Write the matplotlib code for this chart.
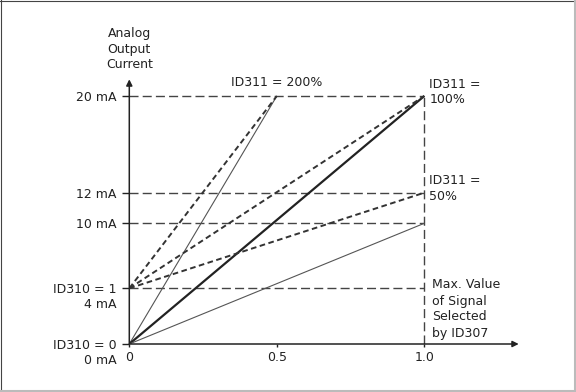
import numpy as np
import matplotlib.pyplot as plt
from matplotlib.lines import Line2D

# analog output scaling (ID311 gain, ID310 min 0 / 4 mA)
gain_labels = ['200%', '100%', '50%']
end_signal = [0.5, 1.0, 1.0]
end_current_0ma = [20, 20, 10]   # ID310 = 0 -> start at 0 mA
end_current_4ma = [20, 20, 12]   # ID310 = 1 -> start at 4 mA
start_0ma = 0
start_4ma = 4
solid_widths = [0.8, 1.6, 0.8]
solid_colors = ['#555555', '#222222', '#555555']

ref_currents = [20, 12, 10, 4]
ytick_vals = [0, 4, 10, 12, 20]
ytick_labels = ['ID310 = 0', 'ID310 = 1', '10 mA', '12 mA', '20 mA']
xtick_vals = [0, 0.5, 1.0]
xtick_labels = ['0', '0.5', '1.0']

# the drawing is a sketch, its current axis is not evenly spaced
scale_ma = [0, 4, 10, 12, 20, 22]
scale_pos = [0, 55.7, 120.7, 151.3, 248, 272.7]

def fwd(v):
    return np.interp(v, scale_ma, scale_pos)

def inv(v):
    return np.interp(v, scale_pos, scale_ma)

plt.rcParams['font.family'] = ['DejaVu Sans']
plt.rcParams['font.size'] = 9

fig = plt.figure(figsize=(5.76, 3.92), dpi=100)
W, H = 576, 392
ax = fig.add_axes([129.3 / W, 48 / H, 398.25 / W, 272.7 / H])
ax.set_yscale('function', functions=(fwd, inv))
ax.set_xlim(0, 1.35)
ax.set_ylim(0, 22)
for s in ax.spines.values():
    s.set_visible(False)

# reference dashed lines
ax.hlines(ref_currents, 0, 1.0, colors='#444444', lw=1.0, linestyles=[(0, (6.5, 3))])
ax.vlines(1.0, 0, 20, colors='#444444', lw=1.0, linestyles=[(0, (6.5, 3))])

# output curves
for xe, y0, y1, lw, c in zip(end_signal, end_current_0ma, end_current_4ma, solid_widths, solid_colors):
    ax.plot([0, xe], [start_0ma, y0], color=c, lw=lw, solid_capstyle='butt')
    ax.plot([0, xe], [start_4ma, y1], color='#333333', lw=1.4, ls=(0, (2.9, 1.8)))

# axes arrows
arrow = dict(arrowstyle='-|>', lw=1.1, color='#222222', mutation_scale=9, shrinkA=0, shrinkB=0)
ax.annotate('', xy=(1.32, 0), xytext=(0, 0), arrowprops=arrow)
ax.annotate('', xy=(0, 21.35), xytext=(0, 0), arrowprops=arrow)

ax.set_yticks(ytick_vals)
ax.set_yticklabels(ytick_labels)
ax.set_xticks(xtick_vals)
ax.set_xticklabels(xtick_labels)
ax.minorticks_off()
ax.tick_params(axis='y', direction='out', length=5, width=1, pad=4, colors='#222222')
ax.tick_params(axis='x', direction='out', length=2.5, width=1, pad=2.5, colors='#222222')

tc = '#222222'
ax.annotate('4 mA', xy=(0, start_4ma), xytext=(-13, -16), textcoords='offset pixels',
            ha='right', va='center', color=tc)
ax.annotate('0 mA', xy=(0, start_0ma), xytext=(-13, -17), textcoords='offset pixels',
            ha='right', va='center', color=tc)

ax.annotate('Analog\nOutput\nCurrent', xy=(0, 0), xytext=(0, 295), textcoords='offset pixels',
            ha='center', va='center', linespacing=1.25, color=tc)
ax.annotate('ID311 = ' + gain_labels[0], xy=(end_signal[0], end_current_0ma[0]), xytext=(0, 13),
            textcoords='offset pixels', ha='center', va='center', color=tc)
ax.annotate('ID311 =\n' + gain_labels[1], xy=(end_signal[1], end_current_0ma[1]), xytext=(5, 4),
            textcoords='offset pixels', ha='left', va='center', linespacing=1.25, color=tc)
ax.annotate('ID311 =\n' + gain_labels[2], xy=(end_signal[2], end_current_4ma[2]), xytext=(5, 4),
            textcoords='offset pixels', ha='left', va='center', linespacing=1.25, color=tc)
ax.annotate('Max. Value\nof Signal\nSelected\nby ID307', xy=(1.0, 0), xytext=(8, 35),
            textcoords='offset pixels', ha='left', va='center', linespacing=1.3, color=tc)

# figure frame
fig.add_artist(Line2D([0, 1], [1 - 0.5 / H, 1 - 0.5 / H], transform=fig.transFigure, color='#444444', lw=0.8))
fig.add_artist(Line2D([0.5 / W, 0.5 / W], [0, 1], transform=fig.transFigure, color='#444444', lw=0.8))
fig.add_artist(Line2D([0, 1], [1 / H, 1 / H], transform=fig.transFigure, color='#bbbbbb', lw=1.5))
fig.add_artist(Line2D([1 - 1 / W, 1 - 1 / W], [0, 1], transform=fig.transFigure, color='#bbbbbb', lw=1.5))

fig.savefig('out.png', dpi=100)
